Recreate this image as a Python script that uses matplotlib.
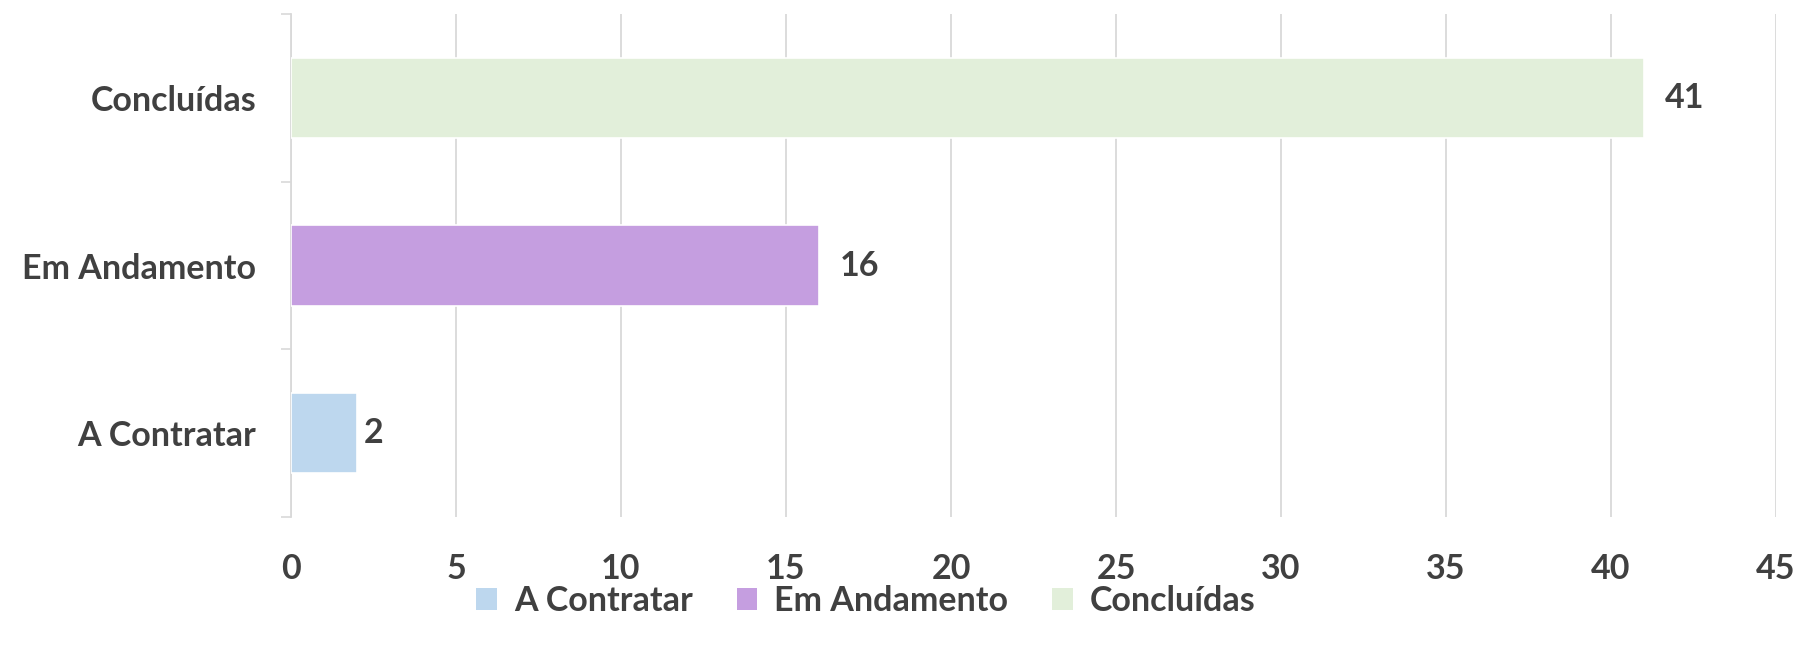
import matplotlib
matplotlib.use("Agg")
import matplotlib.pyplot as plt
from matplotlib.patches import Patch

categories = ["A Contratar", "Em Andamento", "Concluídas"]
values = [2, 16, 41]
colors = ["#BDD7EE", "#C59EE0", "#E2EFDA"]
xticks = [0, 5, 10, 15, 20, 25, 30, 35, 40, 45]

plt.rcParams['font.family'] = ['Lato', 'DejaVu Sans']
text_color = "#404040"
grid_color = "#D9D9D9"
fs = 24.5
label_pads = [5, 15, 15]

W, H = 1801, 647
dpi = 100
fig = plt.figure(figsize=(W / dpi, H / dpi), dpi=dpi)
ax = fig.add_axes([291 / W, 1 - 517 / H, (1776 - 291) / W, (517 - 14) / H])

ypos = list(range(len(categories)))
ax.barh(ypos, values, height=0.48, color=colors, edgecolor="white", linewidth=1.2, zorder=3)

for y, v, p in zip(ypos, values, label_pads):
    ax.annotate(str(v), xy=(v, y), xytext=(p, 0), textcoords="offset points",
                va="center", ha="left", fontsize=fs, fontweight="bold", color=text_color)

ax.set_xlim(0, 45)
ax.set_ylim(-0.5, 2.5)
ax.set_xticks(xticks)
ax.set_xticklabels([str(t) for t in xticks], fontsize=fs, fontweight="bold", color=text_color)
ax.set_yticks(ypos)
ax.set_yticklabels(categories, fontsize=fs, fontweight="bold", color=text_color)
ax.tick_params(axis="y", which="major", length=0, pad=25)
ax.tick_params(axis="x", which="major", length=0, pad=26)
ax.set_yticks([-0.5, 0.5, 1.5, 2.5], minor=True)
ax.tick_params(axis="y", which="minor", length=7, width=1.2, color=grid_color, direction="out")

ax.grid(axis="x", color=grid_color, linewidth=1.3, zorder=0)
ax.set_axisbelow(True)
for s in ["top", "right", "bottom"]:
    ax.spines[s].set_visible(False)
ax.spines["left"].set_color(grid_color)
ax.spines["left"].set_linewidth(1.3)

handles = [Patch(facecolor=c, edgecolor="none") for c in colors]
fig.legend(handles, categories, loc="center", bbox_to_anchor=(866 / W, 1 - 601 / H),
           ncol=3, frameon=False, handlelength=0.6, handleheight=0.6, handletextpad=0.5,
           columnspacing=1.3, prop={"size": fs, "weight": "bold"}, labelcolor=text_color)

fig.savefig("out.png", dpi=dpi, facecolor="white")
